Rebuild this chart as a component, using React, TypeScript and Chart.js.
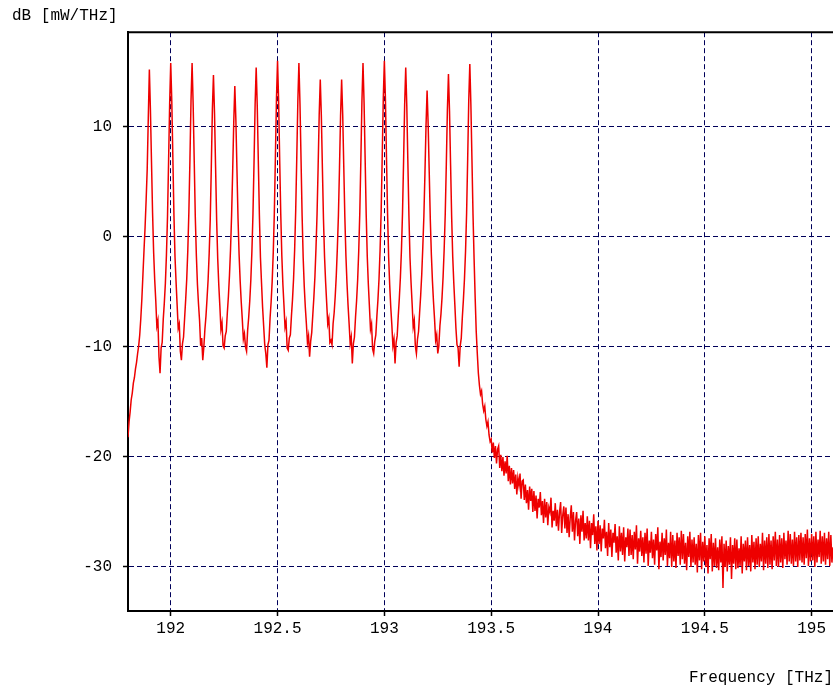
import React, { useEffect, useRef } from 'react';
import { Chart, registerables } from 'chart.js';

Chart.register(...registerables);

// Sampling grid of the spectrum trace (THz)
const TRACE_START_THZ = 191.8;
const SAMPLE_STEP_THZ = 0.005;

// 191.800 – 191.845 THz : rising edge at the left of the plot
const leftEdgeDb = [-18.2, -16.8, -15.9, -14.8, -14.2, -13.3, -12.8, -12.0, -11.4, -10.6];

// 191.850 – 193.445 THz : 16 WDM channels (191.9 … 193.4 THz), 20 samples per channel
const channelCombDb = [
  -9.9, -8.9, -7.4, -5.6, -3.4, -1.2, 0.9, 3.4, 6.2, 10.8, 15.2, 11.5, 6.8, 2.2, -1.4, -3.9, -5.8, -8.1, -7.6, -10.9,
  -12.4, -10.1, -9.6, -7.5, -6.0, -4.2, -1.6, 1.9, 6.9, 12.1, 15.8, 12.3, 7.2, 2.0, -1.8, -4.1, -6.2, -8.3, -7.9, -10.4,
  -11.2, -9.7, -9.1, -7.4, -5.7, -3.8, -1.2, 2.3, 7.1, 12.4, 15.8, 12.0, 6.9, 1.8, -1.7, -4.3, -6.1, -7.6, -9.9, -9.2,
  -11.2, -10.0, -8.4, -7.2, -5.6, -3.9, -1.5, 1.6, 6.4, 11.6, 14.7, 11.2, 6.3, 1.5, -2.0, -4.4, -6.3, -8.4, -7.8, -9.9,
  -10.1, -9.0, -8.6, -6.9, -5.4, -3.5, -1.1, 2.0, 6.0, 10.4, 13.7, 10.6, 6.1, 1.7, -1.6, -4.0, -5.9, -7.5, -9.3, -8.8,
  -10.0, -10.4, -8.5, -7.3, -5.8, -3.9, -1.3, 2.1, 6.8, 12.0, 15.4, 11.9, 6.9, 2.0, -1.9, -4.2, -6.4, -8.1, -9.8, -10.6,
  -11.9, -9.8, -9.4, -7.4, -5.9, -4.0, -1.4, 2.2, 7.3, 12.6, 16.0, 12.4, 7.0, 2.1, -1.7, -4.3, -6.2, -8.2, -7.7, -10.1,
  -10.3, -9.2, -8.9, -7.2, -5.7, -3.8, -1.2, 2.4, 7.2, 12.3, 15.8, 12.1, 7.0, 1.9, -1.9, -4.5, -6.4, -7.9, -9.6, -9.0,
  -10.9, -9.5, -8.7, -7.1, -5.5, -3.6, -1.0, 2.1, 6.4, 11.1, 14.3, 11.0, 6.2, 1.6, -1.8, -4.1, -6.0, -7.9, -7.4, -9.6,
  -9.4, -9.8, -7.9, -6.9, -5.4, -3.5, -1.0, 2.0, 6.3, 11.0, 14.3, 11.1, 6.4, 1.8, -1.7, -4.2, -6.2, -7.9, -9.7, -9.1,
  -11.5, -9.7, -9.1, -7.3, -5.8, -3.9, -1.3, 2.2, 7.0, 12.3, 15.8, 12.2, 7.1, 2.0, -1.8, -4.3, -6.3, -8.4, -7.9, -10.2,
  -10.6, -9.5, -8.9, -7.2, -5.7, -3.8, -1.2, 2.3, 7.3, 12.6, 16.0, 12.5, 7.2, 2.1, -1.8, -4.4, -6.4, -8.0, -9.9, -9.3,
  -11.5, -9.6, -9.0, -7.2, -5.6, -3.7, -1.2, 2.2, 6.9, 12.0, 15.4, 11.9, 6.8, 1.9, -1.9, -4.2, -6.1, -8.2, -7.6, -9.9,
  -10.6, -9.3, -8.6, -6.9, -5.3, -3.4, -0.9, 1.9, 5.8, 10.1, 13.3, 10.2, 5.9, 1.6, -1.6, -4.0, -5.9, -7.5, -9.4, -8.9,
  -10.6, -9.9, -8.1, -7.0, -5.5, -3.6, -1.1, 2.1, 6.6, 11.5, 14.8, 11.4, 6.5, 1.8, -1.8, -4.2, -6.2, -8.3, -9.8, -10.1,
  -11.8, -9.9, -9.2, -7.3, -5.7, -3.8, -1.3, 2.2, 7.1, 12.4, 15.7, 12.0, 7.0, 2.0, -2.0, -5.5, -8.6, -10.6, -12.4, -13.5,
];

// 193.450 – 193.495 THz : roll-off after the last channel
const rollOffDb = [-14.3, -14.0, -15.2, -15.8, -15.4, -16.6, -17.2, -16.8, -18.0, -18.6];

// 193.500 – 195.100 THz : ASE noise floor
const noiseFloorDb = [
  -18.4, -19.6, -18.7, -20.1, -19.0, -20.6, -19.3, -19.0, -21.0, -19.8,
  -21.3, -20.0, -21.7, -20.4, -21.5, -19.9, -22.2, -20.8, -22.5, -21.0,
  -22.4, -21.2, -22.9, -21.6, -23.4, -21.9, -22.6, -21.5, -23.8, -22.2,
  -22.1, -23.9, -22.5, -24.2, -23.0, -24.8, -22.7, -24.0, -22.9, -25.0,
  -23.1, -24.9, -23.5, -25.6, -23.8, -24.6, -23.2, -25.3, -24.0, -26.0,
  -23.8, -25.5, -24.1, -26.2, -24.6, -25.0, -23.7, -26.4, -24.9, -25.8,
  -24.2, -26.3, -24.8, -26.7, -25.0, -24.1, -26.9, -25.3, -24.5, -26.5,
  -24.6, -26.9, -25.2, -27.3, -25.5, -24.4, -26.8, -25.0, -27.6, -25.8,
  -25.0, -27.2, -25.6, -27.9, -25.3, -26.8, -24.9, -27.6, -26.0, -27.4,
  -25.4, -27.6, -25.8, -28.3, -26.0, -27.1, -25.2, -27.9, -26.3, -28.5,
  -25.8, -27.9, -26.2, -28.6, -26.5, -27.4, -25.7, -28.3, -26.8, -29.0,
  -26.0, -28.2, -26.6, -29.1, -26.9, -27.8, -26.1, -28.7, -27.2, -29.4,
  -26.3, -28.6, -26.9, -28.9, -26.4, -29.5, -27.3, -28.2, -26.5, -29.0,
  -26.6, -28.9, -27.1, -29.3, -26.8, -28.4, -26.2, -29.7, -27.4, -28.6,
  -26.7, -29.0, -27.3, -29.6, -26.9, -28.8, -26.5, -29.9, -27.6, -28.7,
  -26.8, -29.2, -27.5, -29.8, -27.0, -28.5, -26.4, -30.2, -27.7, -29.1,
  -26.9, -29.4, -27.4, -28.9, -26.6, -29.9, -27.8, -29.2, -26.8, -30.0,
  -27.1, -29.5, -27.6, -30.1, -26.9, -29.0, -27.3, -29.8, -26.7, -29.3,
  -27.0, -29.7, -27.8, -30.3, -27.2, -29.1, -26.8, -30.0, -27.5, -29.6,
  -27.3, -29.8, -27.9, -30.5, -27.1, -29.4, -26.9, -30.2, -27.7, -29.5,
  -27.2, -30.0, -28.0, -30.6, -27.4, -29.3, -27.0, -30.4, -27.8, -29.9,
  -27.4, -30.1, -28.2, -30.3, -27.5, -29.6, -27.2, -31.9, -27.9, -30.0,
  -27.6, -30.4, -28.1, -29.8, -27.3, -31.1, -28.0, -29.7, -27.4, -30.2,
  -27.5, -30.1, -28.3, -29.9, -27.2, -30.6, -27.9, -29.5, -27.6, -30.3,
  -27.3, -29.9, -28.0, -30.4, -27.1, -29.6, -27.7, -30.2, -27.4, -29.8,
  -27.2, -30.0, -27.9, -29.5, -26.9, -30.3, -27.6, -29.7, -27.3, -30.1,
  -27.0, -29.8, -27.6, -30.2, -27.2, -29.4, -26.8, -29.9, -27.5, -30.0,
  -27.1, -29.6, -27.4, -30.1, -26.9, -29.3, -27.6, -29.8, -26.7, -29.5,
  -27.0, -29.7, -27.5, -29.9, -26.8, -29.5, -27.3, -30.0, -27.1, -29.4,
  -26.9, -29.6, -27.3, -29.8, -27.0, -29.2, -26.6, -29.9, -27.4, -29.5,
  -27.0, -29.4, -27.2, -30.0, -26.8, -29.6, -27.5, -29.1, -26.7, -29.7,
  -27.2, -29.5, -26.9, -29.8, -27.4, -29.3, -26.8, -29.9, -27.1, -29.6,
  -28.2,
];

// Axes
const X_MIN = 191.8;
const X_MAX = 195.1;
const Y_MIN = -34;
const Y_MAX = 18.6;
const xTickValues = [192, 192.5, 193, 193.5, 194, 194.5, 195];
const yTickValues = [-30, -20, -10, 0, 10];
const xAxisTitle = 'Frequency [THz]';
const yAxisTitle = 'dB [mW/THz]';

const FONT = "'Liberation Mono', 'DejaVu Sans Mono', monospace";
const GRID_COLOR = '#00005a';
const TRACE_COLOR = '#ee0000';

const frameTopPlugin = {
  id: 'frameTop',
  afterDraw(chart: any) {
    const { ctx, chartArea } = chart;
    ctx.save();
    ctx.strokeStyle = '#000000';
    ctx.lineWidth = 2;
    ctx.beginPath();
    ctx.moveTo(chartArea.left, chartArea.top);
    ctx.lineTo(chartArea.right, chartArea.top);
    ctx.stroke();
    ctx.restore();
  },
};

export default function App() {
  const canvasRef = useRef<HTMLCanvasElement | null>(null);

  useEffect(() => {
    const canvas = canvasRef.current;
    if (!canvas) return;
    const spectrumDb = [...leftEdgeDb, ...channelCombDb, ...rollOffDb, ...noiseFloorDb];
    const points = spectrumDb.map((y, i) => ({
      x: Math.round((TRACE_START_THZ + i * SAMPLE_STEP_THZ) * 1000) / 1000,
      y,
    }));

    const chart = new Chart(canvas, {
      type: 'line',
      data: {
        datasets: [
          {
            data: points,
            borderColor: TRACE_COLOR,
            borderWidth: 1.5,
            pointRadius: 0,
            tension: 0,
            fill: false,
          },
        ],
      },
      options: {
        responsive: false,
        animation: false,
        devicePixelRatio: 1,
        layout: { padding: { left: 12, right: 0, top: 0, bottom: 0 } },
        plugins: {
          legend: { display: false },
          tooltip: { enabled: false },
          title: {
            display: true,
            text: yAxisTitle,
            align: 'start',
            color: '#000000',
            font: { family: FONT, size: 16, weight: 'normal', lineHeight: 1.2 },
            padding: { top: 6, bottom: 7 },
          },
        },
        scales: {
          x: {
            type: 'linear',
            min: X_MIN,
            max: X_MAX,
            z: 1,
            afterBuildTicks: (scale: any) => {
              scale.ticks = xTickValues.map((v) => ({ value: v }));
            },
            afterFit: (scale: any) => {
              scale.height = 76;
            },
            ticks: {
              color: '#000000',
              font: { family: FONT, size: 16 },
              padding: 3,
              maxRotation: 0,
              autoSkip: false,
              callback: (v: any) => String(v),
            },
            grid: {
              color: GRID_COLOR,
              lineWidth: 1,
              tickLength: 5,
              tickColor: '#000000',
              tickWidth: 1.5,
            },
            border: { display: true, color: '#000000', width: 2, dash: [5, 3] },
            title: {
              display: true,
              text: xAxisTitle,
              align: 'end',
              color: '#000000',
              font: { family: FONT, size: 16, lineHeight: 1.2 },
              padding: { top: 0, bottom: 0 },
            },
          },
          y: {
            type: 'linear',
            min: Y_MIN,
            max: Y_MAX,
            z: 1,
            afterBuildTicks: (scale: any) => {
              scale.ticks = yTickValues.map((v) => ({ value: v }));
            },
            afterFit: (scale: any) => {
              scale.width = 116;
            },
            ticks: {
              color: '#000000',
              font: { family: FONT, size: 16 },
              padding: 11,
              autoSkip: false,
              callback: (v: any) => String(v),
            },
            grid: {
              color: GRID_COLOR,
              lineWidth: 1,
              tickLength: 5,
              tickColor: '#000000',
              tickWidth: 1.5,
            },
            border: { display: true, color: '#000000', width: 2, dash: [5, 3] },
          },
        },
      },
      plugins: [frameTopPlugin],
    } as any);

    return () => chart.destroy();
  }, []);

  return (
    <div style={{ position: 'fixed', left: 0, top: 0, width: 833, height: 687, background: '#ffffff' }}>
      <canvas ref={canvasRef} width={833} height={687} style={{ display: 'block' }} />
    </div>
  );
}
